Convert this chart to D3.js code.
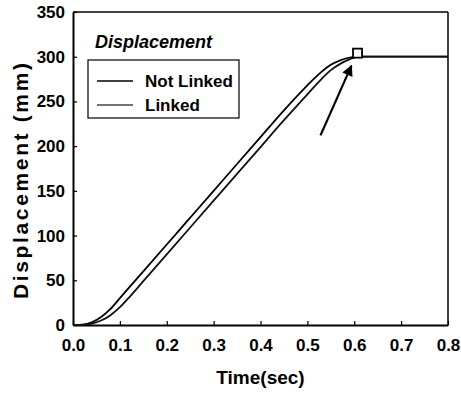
<!DOCTYPE html>
<html>
<head>
<meta charset="utf-8">
<script src="https://cdn.jsdelivr.net/npm/d3@7"></script>
<style>
	body { margin: 0; background: #fff; }
	svg { display: block; font-family: "Liberation Sans", Arial, sans-serif; }
</style>
</head>
<body>
<svg id="chart" width="461" height="397"></svg>
<script>
// time (sec) shared by both series
var times = [0, 0.02, 0.04, 0.06, 0.08, 0.10, 0.12, 0.15, 0.20, 0.25, 0.30, 0.35, 0.40, 0.45, 0.50, 0.53, 0.55, 0.57, 0.59, 0.61, 0.65, 0.70, 0.80];
// displacement (mm)
var notLinked = [0, 0.5, 3, 9, 18, 30, 42, 60, 90, 120, 150, 180, 210, 240, 268, 283, 291, 296, 299, 300, 300, 300, 300];
var linked = [0, 0, 1.5, 5, 11, 20, 31, 49, 79, 109, 139, 169, 199, 229, 258, 275, 285, 292, 297, 300, 300, 300, 300];

var seriesNames = ['Not Linked', 'Linked'];
var xTicks = [0, 0.1, 0.2, 0.3, 0.4, 0.5, 0.6, 0.7, 0.8];
var yTicks = [0, 50, 100, 150, 200, 250, 300, 350];

// annotation: marker and arrow (data coords)
var markerPoint = [0.607, 304];
var arrowFrom = [0.528, 212];
var arrowTo = [0.594, 290];

var margin = {top: 12, right: 13, bottom: 72, left: 73},
	svg = d3.select('#chart'),
	width = +svg.attr('width') - margin.left - margin.right,
	height = +svg.attr('height') - margin.top - margin.bottom,
	g = svg.append('g').attr('transform', 'translate(' + margin.left + ',' + margin.top + ')');

var x = d3.scaleLinear().domain([0, 0.8]).range([0, width]);
var y = d3.scaleLinear().domain([0, 350]).range([height, 0]);

// frame (top / right)
g.append('line').attr('x1', 0).attr('x2', width).attr('y1', 0).attr('y2', 0)
	.attr('stroke', '#000').attr('stroke-width', 1.5);
g.append('line').attr('x1', width).attr('x2', width).attr('y1', 0).attr('y2', height)
	.attr('stroke', '#000').attr('stroke-width', 1.5);

// Axes, inward ticks
var xAxis = g.append('g')
	.attr('transform', 'translate(0,' + height + ')')
	.call(d3.axisBottom(x).tickValues(xTicks).tickSizeInner(-4).tickSizeOuter(0)
		.tickFormat(d3.format('.1f')));
var yAxis = g.append('g')
	.call(d3.axisLeft(y).tickValues(yTicks).tickSizeInner(-4).tickSizeOuter(0));

[xAxis, yAxis].forEach(function(a) {
	a.select('.domain').attr('stroke', '#000').attr('stroke-width', 2);
	a.selectAll('.tick line').attr('stroke', '#000').attr('stroke-width', 1.2);
	a.selectAll('.tick text')
		.attr('fill', '#000')
		.attr('font-size', 17)
		.attr('font-weight', 'bold')
		.attr('font-family', '"Liberation Sans", Arial, sans-serif');
});
xAxis.selectAll('.tick text').attr('y', 14);
yAxis.selectAll('.tick text').attr('x', -8);

// Axis titles
svg.append('text')
	.attr('x', margin.left + width / 2)
	.attr('y', 384)
	.attr('text-anchor', 'middle')
	.attr('font-size', 19)
	.attr('font-weight', 'bold')
	.text('Time(sec)');

svg.append('text')
	.attr('transform', 'translate(28,181) rotate(-90)')
	.attr('text-anchor', 'middle')
	.attr('font-size', 21)
	.attr('font-weight', 'bold')
	.attr('textLength', 236)
	.attr('lengthAdjust', 'spacing')
	.text('Displacement (mm)');

// series lines
var line = d3.line()
	.x(function(d) { return x(d[0]); })
	.y(function(d) { return y(d[1]); })
	.curve(d3.curveMonotoneX);

[notLinked, linked].forEach(function(vals, i) {
	g.append('path')
		.datum(times.map(function(t, j) { return [t, vals[j]]; }))
		.attr('fill', 'none')
		.attr('stroke', i === 0 ? '#000' : '#111')
		.attr('stroke-width', 1.8)
		.attr('stroke-linejoin', 'round')
		.attr('d', line);
});

// marker square
g.append('rect')
	.attr('x', x(markerPoint[0]) - 4.5)
	.attr('y', y(markerPoint[1]) - 4.5)
	.attr('width', 9).attr('height', 9)
	.attr('fill', '#fff')
	.attr('stroke', '#000')
	.attr('stroke-width', 1.8);

// arrow
svg.append('defs').append('marker')
	.attr('id', 'arrowhead')
	.attr('viewBox', '0 0 10 10')
	.attr('refX', 9).attr('refY', 5)
	.attr('markerWidth', 6).attr('markerHeight', 5)
	.attr('markerUnits', 'strokeWidth')
	.attr('orient', 'auto')
	.append('path')
	.attr('d', 'M0,0L10,5L0,10z')
	.attr('fill', '#000');

g.append('line')
	.attr('x1', x(arrowFrom[0])).attr('y1', y(arrowFrom[1]))
	.attr('x2', x(arrowTo[0])).attr('y2', y(arrowTo[1]))
	.attr('stroke', '#000')
	.attr('stroke-width', 2.2)
	.attr('marker-end', 'url(#arrowhead)');

// Legend
svg.append('text')
	.attr('x', 95).attr('y', 48)
	.attr('font-size', 18)
	.attr('font-weight', 'bold')
	.attr('font-style', 'italic')
	.text('Displacement');

svg.append('rect')
	.attr('x', 88).attr('y', 60)
	.attr('width', 151).attr('height', 58)
	.attr('fill', '#fff')
	.attr('stroke', '#000')
	.attr('stroke-width', 1.2);

seriesNames.forEach(function(name, i) {
	var ly = 81 + i * 24;
	svg.append('line')
		.attr('x1', 97).attr('x2', 133)
		.attr('y1', ly).attr('y2', ly)
		.attr('stroke', i === 0 ? '#000' : '#444')
		.attr('stroke-width', 1.5);
	svg.append('text')
		.attr('x', 145).attr('y', ly + 6)
		.attr('font-size', 17)
		.attr('font-weight', 'bold')
		.text(name);
});
</script>
</body>
</html>
